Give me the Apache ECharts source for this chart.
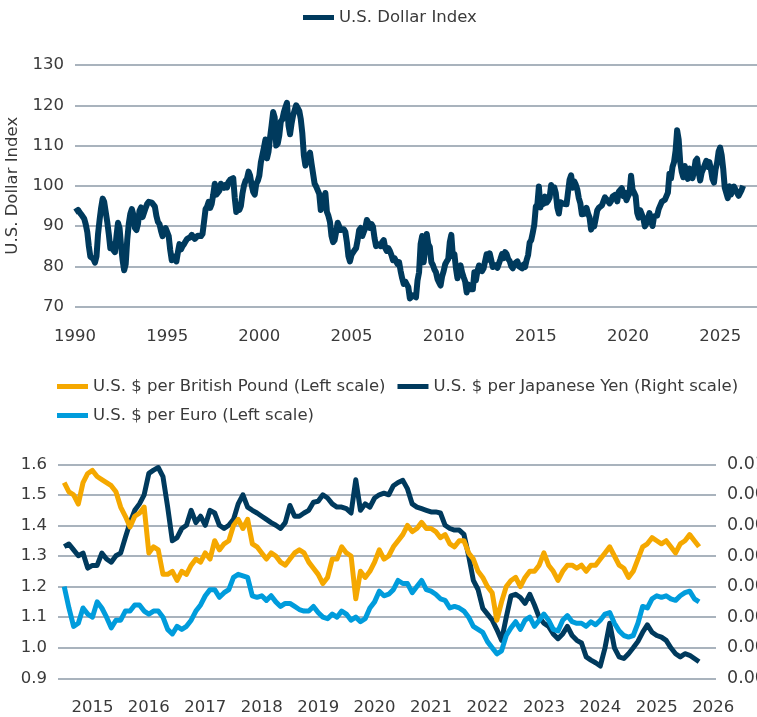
<!DOCTYPE html>
<html><head><meta charset="utf-8">
<script src="https://cdn.jsdelivr.net/npm/echarts@6/dist/echarts.min.js"></script>
<style>html,body{margin:0;padding:0;background:#fff}#c{width:757px;height:717px}</style>
</head><body><div id="c"></div>
<script>
// ---- Data: U.S. Dollar Index, monthly, starting Jan 1990 ----
const dxyStartYear = 1990;
const dxyMonthly = [
93.5,93.9,94.0,93.4,92.9,92.6,91.8,90.4,88.5,85.0,82.4,82.8,
81.8,80.9,82.5,88.0,91.5,94.5,96.8,96.0,93.5,91.0,88.0,84.5,
85.5,84.0,83.5,87.5,90.8,89.5,85.0,81.5,79.0,80.5,86.5,90.5,
93.0,94.2,92.8,89.5,89.0,90.5,93.8,94.6,92.2,92.5,94.5,95.5,
96.0,96.3,95.8,96.2,94.8,92.5,91.0,90.5,88.8,87.5,88.5,89.5,
89.2,87.5,84.0,81.5,82.5,81.8,81.2,83.5,85.5,84.2,85.0,85.5,
86.2,86.8,86.5,87.2,87.8,87.5,86.8,87.0,87.6,88.0,87.5,88.0,
91.0,94.2,94.8,96.0,94.5,95.5,97.8,100.5,97.8,97.5,98.8,100.5,
100.8,99.5,100.2,99.6,101.0,101.5,101.8,101.9,97.0,93.5,95.2,94.0,
95.0,98.0,100.0,101.2,101.8,103.5,102.5,100.2,98.5,97.8,100.5,101.2,
102.5,105.8,106.2,109.5,111.5,106.8,108.5,112.0,115.0,118.3,117.0,110.0,
110.5,112.5,116.0,116.5,118.3,119.5,120.6,115.0,112.8,115.5,117.5,117.8,
120.0,119.8,118.6,116.5,113.0,107.5,105.0,106.8,107.5,108.2,105.5,103.0,
100.5,99.8,100.2,98.0,94.0,95.0,96.8,98.2,93.5,92.5,91.0,87.5,
86.0,86.5,88.5,90.8,90.5,89.0,88.8,89.2,88.5,86.0,82.5,81.2,
82.8,82.5,84.0,84.5,86.5,89.0,89.5,87.5,88.5,89.5,91.5,90.8,
89.5,90.5,89.8,87.0,85.0,85.5,85.2,85.0,86.0,86.5,84.5,83.8,
84.5,83.8,82.8,81.5,82.0,82.0,80.5,81.0,78.8,77.0,75.6,76.2,
75.5,74.8,72.0,72.4,72.8,72.6,72.3,76.5,78.5,85.5,87.5,81.0,
84.5,88.0,85.5,84.8,81.0,80.3,79.2,78.5,76.8,76.0,75.2,77.5,
78.8,80.5,81.2,81.8,86.0,87.8,82.5,83.0,79.5,77.0,79.5,80.2,
78.5,77.3,76.2,73.5,75.5,74.3,74.0,74.3,78.5,76.5,78.8,80.2,
80.0,78.8,79.5,79.2,83.0,81.6,83.2,81.5,79.8,79.9,80.3,79.6,
79.3,81.8,83.0,82.0,83.5,83.0,81.8,81.3,80.0,79.5,80.6,80.2,
81.2,80.0,80.2,79.5,80.4,79.8,81.5,82.8,85.9,86.5,88.3,90.3,
94.8,95.3,99.8,94.6,96.9,95.5,97.3,95.8,96.3,97.1,100.2,98.6,
99.6,98.2,94.6,93.1,95.9,96.1,95.5,95.9,95.4,98.5,101.5,102.6,
99.5,101.1,100.3,99.1,96.9,95.6,92.9,92.7,93.1,94.5,93.1,92.1,
89.1,90.6,89.9,91.8,93.9,94.5,94.5,95.1,94.8,97.1,97.3,96.2,
95.6,96.2,97.3,97.5,97.8,96.1,98.5,98.9,99.4,97.4,98.3,96.4,
97.4,98.1,102.5,99.0,98.3,97.4,93.3,92.1,93.9,94.0,91.9,89.9,
90.6,90.9,93.2,91.3,90.0,92.4,92.2,92.6,94.2,94.1,96.0,95.7,
96.5,96.7,98.3,103.0,101.8,104.7,105.9,108.7,113.8,111.5,105.9,103.5,
102.1,104.9,102.5,101.7,104.3,102.9,101.9,103.6,106.2,106.7,103.5,101.3,
103.3,104.2,104.5,106.2,104.7,105.9,104.1,101.7,100.8,104.0,105.7,108.5,
109.5,107.6,104.2,99.5,99.3,96.9,99.9,97.8,97.8,99.8,99.5,98.3,
97.5,97.8,99.0,100.0
];

// ---- Data: exchange rates, monthly, starting Jan 2015 ----
const fxStartYear = 2015;
const gbpMonthly = [
1.54,1.51,1.50,1.47,1.54,1.57,1.58,1.56,1.55,1.54,1.53,1.51,
1.46,1.43,1.395,1.43,1.44,1.46,1.31,1.33,1.32,1.24,1.24,1.25,
1.22,1.25,1.24,1.27,1.29,1.28,1.31,1.29,1.35,1.32,1.34,1.35,
1.40,1.42,1.39,1.42,1.34,1.33,1.31,1.29,1.31,1.30,1.28,1.27,
1.29,1.31,1.32,1.31,1.28,1.26,1.24,1.21,1.23,1.29,1.29,1.33,
1.31,1.30,1.16,1.25,1.23,1.25,1.28,1.32,1.29,1.30,1.33,1.35,
1.37,1.40,1.38,1.39,1.41,1.39,1.39,1.38,1.36,1.37,1.34,1.33,
1.35,1.35,1.31,1.29,1.25,1.23,1.20,1.18,1.09,1.15,1.20,1.22,
1.23,1.20,1.23,1.25,1.25,1.27,1.31,1.27,1.25,1.22,1.25,1.27,
1.27,1.26,1.27,1.25,1.27,1.27,1.29,1.31,1.33,1.30,1.27,1.26,
1.23,1.25,1.29,1.33,1.34,1.36,1.35,1.34,1.35,1.33,1.31,1.34,
1.35,1.37,1.35,1.33
];
const eurMonthly = [
1.20,1.13,1.07,1.08,1.13,1.11,1.10,1.15,1.13,1.10,1.065,1.09,
1.09,1.12,1.12,1.14,1.14,1.12,1.11,1.12,1.12,1.10,1.06,1.045,
1.07,1.06,1.07,1.09,1.12,1.14,1.17,1.19,1.19,1.165,1.18,1.19,
1.23,1.24,1.235,1.23,1.17,1.165,1.17,1.155,1.17,1.15,1.135,1.145,
1.145,1.135,1.125,1.12,1.12,1.135,1.115,1.10,1.095,1.11,1.10,1.12,
1.11,1.09,1.10,1.085,1.095,1.13,1.15,1.185,1.17,1.175,1.19,1.22,
1.21,1.21,1.18,1.20,1.22,1.19,1.185,1.175,1.16,1.155,1.13,1.135,
1.13,1.12,1.10,1.07,1.06,1.05,1.02,1.00,0.98,0.99,1.04,1.065,
1.085,1.06,1.09,1.10,1.07,1.09,1.11,1.09,1.06,1.055,1.09,1.105,
1.085,1.08,1.08,1.07,1.085,1.075,1.09,1.11,1.115,1.08,1.055,1.04,
1.035,1.04,1.08,1.135,1.13,1.16,1.17,1.165,1.17,1.16,1.155,1.17,
1.18,1.185,1.16,1.15
];
const jpyMonthly = [
0.00846,0.00851,0.00840,0.00829,0.00834,0.00806,0.00811,0.00811,0.00834,0.00823,0.00817,0.00829,
0.00834,0.00863,0.00891,0.00914,0.00926,0.00943,0.00983,0.00989,0.00994,0.00977,0.00920,0.00857,
0.00863,0.00880,0.00886,0.00914,0.00891,0.00903,0.00886,0.00914,0.00909,0.00886,0.00880,0.00886,
0.00897,0.00926,0.00943,0.00920,0.00914,0.00909,0.00903,0.00897,0.00891,0.00886,0.00880,0.00891,
0.00923,0.00903,0.00903,0.00909,0.00914,0.00929,0.00931,0.00943,0.00937,0.00926,0.00920,0.00920,
0.00917,0.00909,0.00971,0.00914,0.00926,0.00920,0.00937,0.00943,0.00946,0.00943,0.00960,0.00966,
0.00970,0.00954,0.00926,0.00920,0.00917,0.00914,0.00911,0.00911,0.00909,0.00886,0.00880,0.00877,
0.00877,0.00869,0.00829,0.00783,0.00766,0.00731,0.00720,0.00709,0.00691,0.00671,0.00714,0.00754,
0.00757,0.00751,0.00740,0.00757,0.00737,0.00714,0.00703,0.00697,0.00683,0.00674,0.00683,0.00697,
0.00680,0.00671,0.00666,0.00640,0.00634,0.00629,0.00623,0.00657,0.00703,0.00657,0.00640,0.00637,
0.00646,0.00657,0.00669,0.00686,0.00700,0.00686,0.00680,0.00677,0.00671,0.00657,0.00646,0.00640,
0.00646,0.00643,0.00637,0.00631
];
const bottomYearLabels = [2015,2016,2017,2018,2019,2020,2021,2022,2023,2024,2025,2026];

const NAVY = '#003a5d', ORANGE = '#f5a800', BLUE = '#009cdc';
const GRID = '#a9b3bd', TXT = '#3a3a3a', FONT = 'DejaVu Sans';

const monthly = (start, arr) => arr.map((v, i) => [start + i / 12, v]);

const chart = echarts.init(document.getElementById('c'), null, {renderer: 'canvas'});
const lbl = {color: TXT, fontFamily: FONT, fontSize: 16.5};
chart.setOption({
  animation: false,
  backgroundColor: '#fff',
  textStyle: {fontFamily: FONT},
  legend: [
    {data: ['U.S. Dollar Index'], left: 298, top: 4, icon: 'rect', itemWidth: 31, itemHeight: 5,
     textStyle: {color: TXT, fontFamily: FONT, fontSize: 16.5}},
    {data: ['U.S. $ per British Pound (Left scale)', 'U.S. $ per Japanese Yen (Right scale)', 'U.S. $ per Euro (Left scale)'],
     left: 52, right: 0, top: 373, icon: 'rect', itemWidth: 31, itemHeight: 5, itemGap: 12,
     textStyle: {color: TXT, fontFamily: FONT, fontSize: 16.5}}
  ],
  grid: [
    {left: 75, right: 0, top: 65, height: 241.5, containLabel: false, outerBoundsMode: 'none'},
    {left: 58, right: 41, top: 464.3, height: 214, containLabel: false, outerBoundsMode: 'none'}
  ],
  xAxis: [
    {gridIndex: 0, type: 'value', min: 1990, max: 2027, interval: 5,
     axisLine: {show: false}, axisTick: {show: false}, splitLine: {show: false},
     axisLabel: Object.assign({margin: 22, formatter: v => (v % 5 === 0 ? String(v) : '')}, lbl)},
    {gridIndex: 1, type: 'value', min: 2014.89, max: 2026.55,
     axisLine: {show: false}, axisTick: {show: false}, splitLine: {show: false},
     axisLabel: Object.assign({margin: 21, customValues: bottomYearLabels.map(y => y + 0.5),
       formatter: v => String(Math.floor(v))}, lbl)}
  ],
  yAxis: [
    {gridIndex: 0, type: 'value', min: 70, max: 130, interval: 10,
     name: 'U.S. Dollar Index', nameLocation: 'middle', nameGap: 47,
     nameTextStyle: {color: TXT, fontFamily: FONT, fontSize: 16.5},
     axisLine: {show: false}, axisTick: {show: false},
     splitLine: {lineStyle: {color: GRID, width: 2}},
     axisLabel: Object.assign({margin: 11}, lbl)},
    {gridIndex: 1, type: 'value', min: 0.9, max: 1.6, interval: 0.1,
     axisLine: {show: false}, axisTick: {show: false},
     splitLine: {lineStyle: {color: GRID, width: 2}},
     axisLabel: Object.assign({margin: 11, formatter: v => v.toFixed(1)}, lbl)},
    {gridIndex: 1, type: 'value', position: 'right', min: 0.006, max: 0.01, interval: 0.004 / 7,
     axisLine: {show: false}, axisTick: {show: false}, splitLine: {show: false},
     axisLabel: Object.assign({}, lbl, {margin: 11, fontSize: 17.5, formatter: v => v.toFixed(4)})}
  ],
  series: [
    {name: 'U.S. Dollar Index', type: 'line', xAxisIndex: 0, yAxisIndex: 0, showSymbol: false,
     data: monthly(dxyStartYear, dxyMonthly), color: NAVY,
     lineStyle: {color: NAVY, width: 6, join: 'round'}},
    {name: 'U.S. $ per British Pound (Left scale)', type: 'line', xAxisIndex: 1, yAxisIndex: 1, showSymbol: false,
     data: monthly(fxStartYear, gbpMonthly), color: ORANGE, z: 3,
     lineStyle: {color: ORANGE, width: 5, join: 'round'}},
    {name: 'U.S. $ per Japanese Yen (Right scale)', type: 'line', xAxisIndex: 1, yAxisIndex: 2, showSymbol: false,
     data: monthly(fxStartYear, jpyMonthly), color: NAVY, z: 2,
     lineStyle: {color: NAVY, width: 5, join: 'round'}},
    {name: 'U.S. $ per Euro (Left scale)', type: 'line', xAxisIndex: 1, yAxisIndex: 1, showSymbol: false,
     data: monthly(fxStartYear, eurMonthly), color: BLUE, z: 4,
     lineStyle: {color: BLUE, width: 5, join: 'round'}}
  ]
});
</script>
</body></html>
